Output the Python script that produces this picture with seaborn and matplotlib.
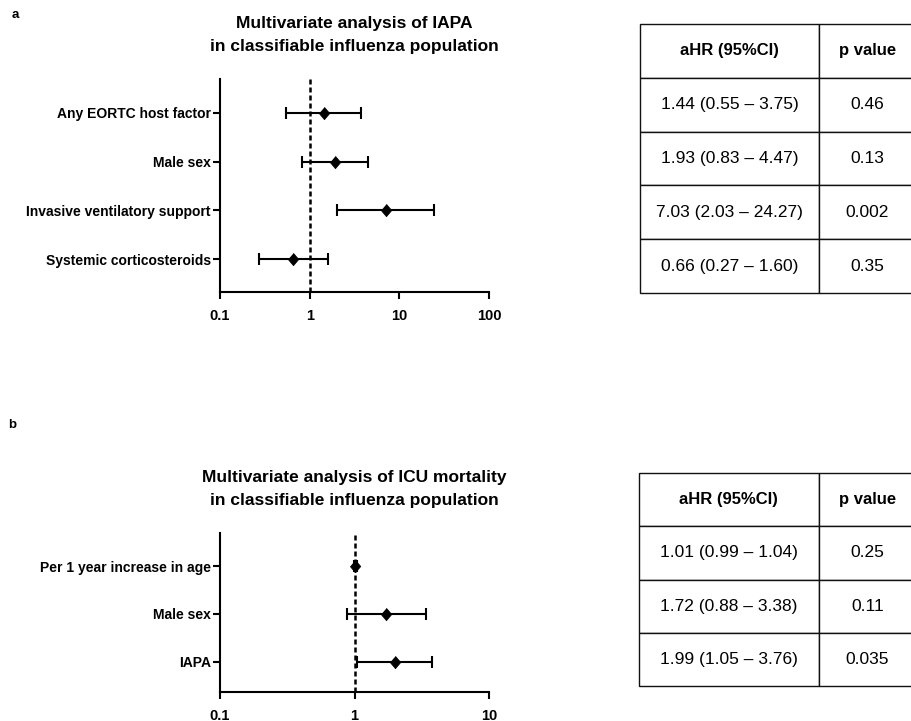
import numpy as np
import pandas as pd
import matplotlib
matplotlib.use("Agg")
import matplotlib.pyplot as plt
import seaborn as sns

# panel a - IAPA
labels_a = ["Any EORTC host factor", "Male sex", "Invasive ventilatory support", "Systemic corticosteroids"]
hr_a = [1.44, 1.93, 7.03, 0.66]
lo_a = [0.55, 0.83, 2.03, 0.27]
hi_a = [3.75, 4.47, 24.27, 1.60]
p_a = ["0.46", "0.13", "0.002", "0.35"]

# panel b - ICU mortality
labels_b = ["Per 1 year increase in age", "Male sex", "IAPA"]
hr_b = [1.01, 1.72, 1.99]
lo_b = [0.99, 0.88, 1.05]
hi_b = [1.04, 3.38, 3.76]
p_b = ["0.25", "0.11", "0.035"]

ticks_a = [0.1, 1, 10, 100]
ticks_b = [0.1, 1, 10]
tick_labels_a = ["0.1", "1", "10", "100"]
tick_labels_b = ["0.1", "1", "10"]

sns.set_style("ticks")
plt.rcParams["font.family"] = ["Liberation Sans", "DejaVu Sans"]
plt.rcParams["text.color"] = "black"
plt.rcParams["xtick.color"] = "black"
plt.rcParams["ytick.color"] = "black"
plt.rcParams["axes.edgecolor"] = "black"

fig = plt.figure(figsize=(9.11, 7.21), dpi=100)

diamond = [(0, 1), (0.85, 0), (0, -1), (-0.85, 0)]


def forest(ax, labels, hr, lo, hi, ticks, tick_labels, title, ylim):
    df = pd.DataFrame({"label": labels, "hr": hr, "lo": lo, "hi": hi})
    pos = np.arange(len(df))
    ax.errorbar(df["hr"], pos, xerr=[df["hr"] - df["lo"], df["hi"] - df["hr"]],
                fmt="none", ecolor="black", elinewidth=1.5, capsize=4, capthick=1.5, zorder=2)
    sns.scatterplot(data=df, x="hr", y=pos, marker=diamond, s=80, color="black",
                    edgecolor="black", linewidth=0.5, ax=ax, zorder=3, legend=False)
    ax.axvline(1, color="black", lw=1.8, ls=(0, (2, 1.2)), zorder=1)
    ax.set_xscale("log")
    ax.set_xlim(ticks[0], ticks[-1])
    ax.set_ylim(*ylim)
    ax.set_xticks(ticks, labels=tick_labels)
    ax.minorticks_off()
    ax.set_yticks(pos, labels=df["label"])
    ax.set_xlabel("")
    ax.set_ylabel("")
    for s in ["top", "right"]:
        ax.spines[s].set_visible(False)
    for s in ["left", "bottom"]:
        ax.spines[s].set_linewidth(1.5)
    ax.tick_params(axis="x", length=5, width=1.5, pad=7, labelsize=10.5)
    ax.tick_params(axis="y", length=5, width=1.5, pad=1.5, labelsize=10)
    for t in ax.get_xticklabels() + ax.get_yticklabels():
        t.set_fontweight("bold")
    ax.set_title(title, fontsize=12.5, fontweight="bold", pad=20.5, linespacing=1.6)


def table(ax, hr, lo, hi, p):
    ax.axis("off")
    cells = [[f"{h:.2f} ({l:.2f} \u2013 {u:.2f})", pv] for h, l, u, pv in zip(hr, lo, hi, p)]
    tbl = ax.table(cellText=cells, colLabels=["aHR (95%CI)", "p value"],
                   colWidths=[179, 97], cellLoc="center", bbox=[0, 0, 1, 1])
    tbl.auto_set_font_size(False)
    for (r, c), cell in tbl.get_celld().items():
        cell.set_linewidth(1.0)
        cell.set_edgecolor("#111111")
        if r == 0:
            cell.get_text().set_fontsize(12)
            cell.get_text().set_fontweight("bold")
        else:
            cell.get_text().set_fontsize(12.5)


W, H = 911, 721


def px_axes(x0, y0, x1, y1):
    return fig.add_axes([x0 / W, 1 - y1 / H, (x1 - x0) / W, (y1 - y0) / H])


ax_a = px_axes(220, 79, 489, 292)
forest(ax_a, labels_a, hr_a, lo_a, hi_a, ticks_a, tick_labels_a,
       "Multivariate analysis of IAPA\nin classifiable influenza population", (3.67, -0.69))
ax_b = px_axes(220, 533, 489, 692)
forest(ax_b, labels_b, hr_b, lo_b, hi_b, ticks_b, tick_labels_b,
       "Multivariate analysis of ICU mortality\nin classifiable influenza population", (2.63, -0.69))

table(px_axes(640, 24, 916, 293), hr_a, lo_a, hi_a, p_a)
table(px_axes(639, 473, 916, 686), hr_b, lo_b, hi_b, p_b)

fig.text(12 / W, 1 - 15 / H, "a", fontsize=9.5, fontweight="bold", va="center")
fig.text(8 / W, 1 - 425 / H, "b", fontsize=9.5, fontweight="bold", va="center")

fig.savefig("out.png", dpi=100)
